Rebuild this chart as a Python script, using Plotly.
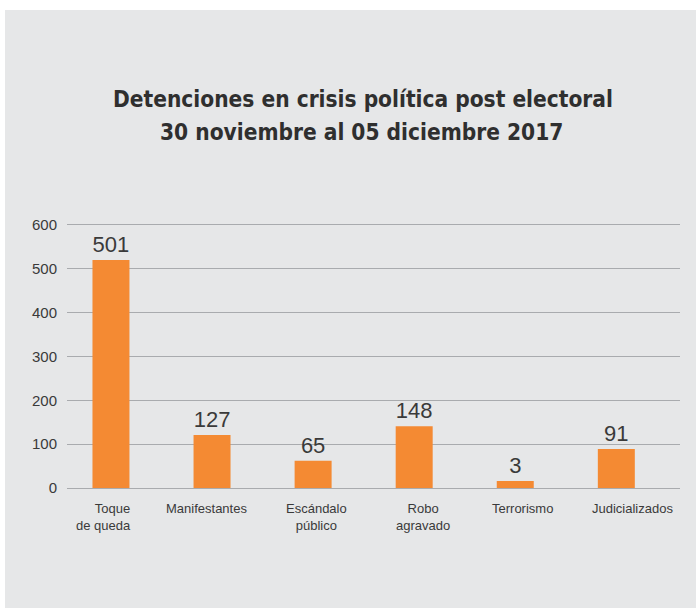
import plotly.graph_objects as go

# ---- data ----
categories = ["Toque<br>de queda", "Manifestantes", "Escándalo<br>público",
              "Robo<br>agravado", "Terrorismo", "Judicializados"]
bar_values = [520, 121, 62, 141, 16, 89]          # bar heights as drawn
label_values = ["501", "127", "65", "148", "3", "91"]  # printed labels
y_ticks = [0, 100, 200, 300, 400, 500, 600]

title_line1 = "Detenciones en crisis política post electoral"
title_line2 = "30 noviembre al 05 diciembre 2017"

# ---- style ----
W, H = 696, 609
ML, MR, MT, MB = 67, 16, 221, 121
BG = "#e6e7e8"
ORANGE = "#f48a33"
GRID = "#a9abae"
TXT = "#3a3a3a"
SANS = "Liberation Sans, Arial, Helvetica, sans-serif"
NARROW = "Liberation Sans Narrow, Arial Narrow, DejaVu Sans Condensed, sans-serif"

plot_w = W - ML - MR
plot_h = H - MT - MB

def px_x(px):
    return (px - ML) / plot_w

def px_y(py):
    return (H - MB - py) / plot_h

xpos = list(range(len(categories)))

fig = go.Figure()
fig.add_trace(go.Bar(
    x=xpos, y=bar_values, width=0.366,
    marker=dict(color=ORANGE, line=dict(width=0)),
    text=label_values, textposition="outside",
    textfont=dict(family=SANS, size=22, color=TXT),
    cliponaxis=False, hoverinfo="skip",
))

# gray panel
fig.add_shape(type="rect", xref="paper", yref="paper",
              x0=px_x(5), x1=px_x(697), y0=px_y(608), y1=px_y(10),
              fillcolor=BG, line=dict(width=0), layer="below")

# title
fig.add_annotation(text="<b>" + title_line1 + "</b>", xref="paper", yref="paper",
                   x=px_x(362.5), y=px_y(99), xanchor="center", yanchor="middle",
                   showarrow=False, font=dict(family=NARROW, size=22.5, color="#2f2f2f"))
fig.add_annotation(text="<b>" + title_line2 + "</b>", xref="paper", yref="paper",
                   x=px_x(361.5), y=px_y(132), xanchor="center", yanchor="middle",
                   showarrow=False, font=dict(family=NARROW, size=22.5, color="#2f2f2f"))

# category labels
label_shift = [-7.5, -5.5, 3.5, 8.5, 7.5, 16.5]
label_align = ["right", "center", "center", "center", "center", "center"]
for i, cat in enumerate(categories):
    fig.add_annotation(text=cat, xref="x", yref="paper", x=xpos[i], y=0,
                       xanchor="center", yanchor="top", yshift=-11,
                       xshift=label_shift[i], align=label_align[i],
                       showarrow=False,
                       font=dict(family=SANS, size=13, color=TXT))

fig.update_layout(
    width=W, height=H,
    margin=dict(l=ML, r=MR, t=MT, b=MB, pad=0),
    paper_bgcolor="white", plot_bgcolor="rgba(0,0,0,0)",
    showlegend=False,
    xaxis=dict(range=[-0.435, 5.63], showticklabels=False, showgrid=False,
               zeroline=False, showline=False, fixedrange=True),
    yaxis=dict(range=[0, 609.1], tickvals=y_ticks, showgrid=True,
               gridcolor=GRID, gridwidth=1.3, zeroline=True,
               zerolinecolor=GRID, zerolinewidth=1.3, showline=False,
               ticks="outside", ticklen=6, tickcolor="rgba(0,0,0,0)",
               tickfont=dict(family=SANS, size=15, color=TXT), fixedrange=True),
)

fig.write_html("out.html", config={"displayModeBar": False},
               post_script="document.body.style.margin='0';")
